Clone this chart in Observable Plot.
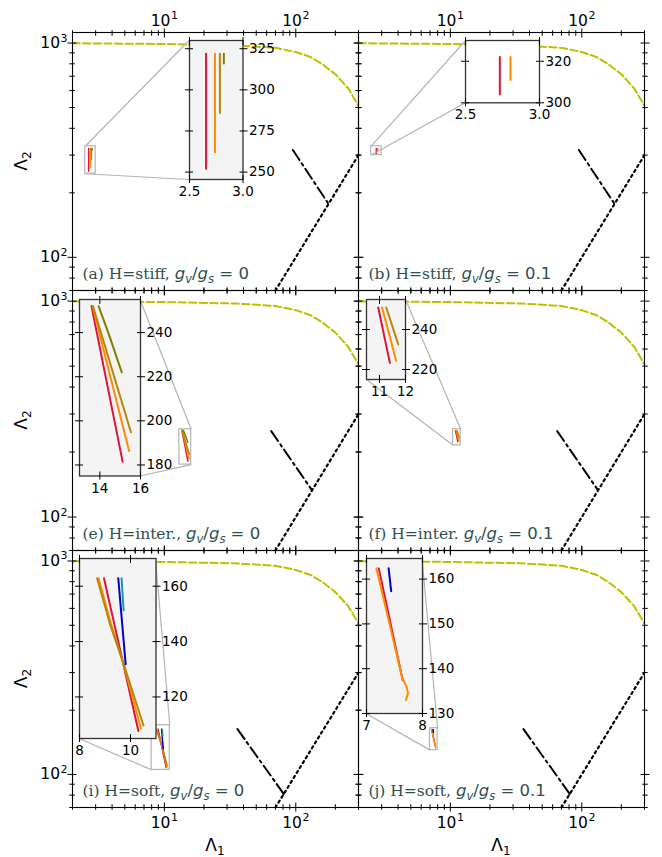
<!DOCTYPE html>
<html><head><meta charset="utf-8">
<script src="https://cdn.jsdelivr.net/npm/d3@7"></script>
<script src="https://cdn.jsdelivr.net/npm/@observablehq/plot@0.6"></script>
<style>
html,body{margin:0;padding:0;background:#fff;}
#fig{position:relative;width:662px;height:857px;overflow:hidden;background:#fff;font-family:"DejaVu Sans";}
#fig svg{position:absolute;overflow:visible;max-width:none;}
</style></head><body><div id="fig"></div>
<script>
// ---------- shared curves (main panels) ----------
const yellowL1 = [2, 10, 35, 70, 100, 130, 160, 200, 250, 300];
const yellowL2 = [998, 990, 975, 950, 908, 860, 795, 715, 615, 510];
const diagL1 = [70, 300];
const diagL2 = [70, 300];
const stiffDashL1 = [95, 178];
const stiffDashL2 = [317, 177];
const interDashL1 = [65, 133];
const interDashL2 = [250, 133];
const softDashL1 = [36, 81];
const softDashL2 = [163, 81];

// ---------- main tick values ----------
const mainXMajor = [10, 100];
const mainXMinor = [2, 3, 4, 5, 6, 7, 8, 9, 20, 30, 40, 50, 60, 70, 80, 90, 200, 300];
const mainYMajor = [100, 1000];
const mainYMinor = [70, 80, 90, 200, 300, 400, 500, 600, 700, 800, 900];

// ---------- panel (a) ----------
const aRedL1 = [2.655, 2.655], aRedL2 = [322, 252];
const aOrangeL1 = [2.738, 2.738], aOrangeL2 = [322, 262];
const aGoldL1 = [2.784, 2.784], aGoldL2 = [322, 286];
const aOliveL1 = [2.821, 2.821], aOliveL2 = [322, 316];
const aInsetX = [2.5, 3.0], aInsetY = [250, 275, 300, 325];
// ---------- panel (b) ----------
const bRedL1 = [2.732, 2.732], bRedL2 = [322, 304];
const bOrangeL1 = [2.804, 2.804], bOrangeL2 = [322, 311];
const bInsetX = [2.5, 3.0], bInsetY = [300, 320];
// ---------- panel (e) ----------
const eRedL1 = [13.59, 15.12], eRedL2 = [252, 181.5];
const eOrangeL1 = [13.64, 15.44], eOrangeL2 = [252, 186.3];
const eGoldL1 = [13.66, 15.53], eGoldL2 = [252, 194.8];
const eOliveL1 = [13.94, 14.47, 15.08], eOliveL2 = [252, 238.5, 222];
const eInsetX = [14, 16], eInsetY = [180, 200, 220, 240];
// ---------- panel (f) ----------
const fRedL1 = [10.95, 11.40], fRedL2 = [251, 223.3];
const fOrangeL1 = [11.10, 11.64], fOrangeL2 = [251, 224.4];
const fGoldL1 = [11.26, 11.72], fGoldL2 = [251, 232.6];
const fInsetX = [11, 12], fInsetY = [220, 240];
// ---------- panel (i) ----------
const iRedL1 = [8.96, 10.31], iRedL2 = [162.9, 107.7];
const iOrangeL1 = [8.75, 9.23, 9.72, 10.41], iOrangeL2 = [162.9, 146.5, 132.2, 108.5];
const iGoldL1 = [8.69, 9.19, 9.72, 10.51], iGoldL2 = [162.9, 146.5, 132.2, 109.7];
const iBlueL1 = [9.52, 9.81], iBlueL2 = [162.9, 131.8];
const iTealL1 = [9.65, 9.73], iTealL2 = [162.9, 151.3];
const iInsetX = [8, 10], iInsetY = [120, 140, 160];
// ---------- panel (j) ----------
const jRedL1 = [7.219, 7.647], jRedL2 = [162.4, 137.4];
const jOrangeL1 = [7.176, 7.413, 7.635, 7.718, 7.741, 7.705], jOrangeL2 = [162.4, 149.9, 138.1, 135.9, 134.5, 133.0];
const jBlueL1 = [7.395, 7.441], jBlueL2 = [162.4, 157.3];
const jInsetX = [7, 8], jInsetY = [130, 140, 150, 160];

// ---------- styles / layout ----------
const RED = "#dc143c", ORANGE = "#ff8c00", GOLD = "#b8860b", OLIVE = "#808000", BLUE = "#0000cd", TEAL = "#1a9a9a";
const YELLOW = "#bfbf00", GRAY = "#b4b4b4", ANN = "#2f4f4f";
const X_DOMAIN = [2, 300], Y_DOMAIN = [70, 1120];
const COL_X = [72, 358], FRAME_W = 286;
const ROWS = [[32, 290], [290, 550], [550, 807]];

const zip = (a, b) => a.map((v, i) => ({x: v, y: b[i]}));
const sup = {"1": "\u00b9", "2": "\u00b2", "3": "\u00b3"};
const unsup = {"\u00b9": "1", "\u00b2": "2", "\u00b3": "3"};
const pow10 = d => "10" + sup[String(Math.round(Math.log10(d)))];

const panels = [
  {col: 0, row: 0, tag: "(a) H=stiff, ", ratio: "0", dash: [stiffDashL1, stiffDashL2],
   series: [[aRedL1, aRedL2, RED], [aOrangeL1, aOrangeL2, ORANGE], [aGoldL1, aGoldL2, GOLD], [aOliveL1, aOliveL2, OLIVE]],
   inset: {xd: [2.5, 3.0], yd: [245.5, 330], xt: aInsetX, yt: aInsetY, xfmt: d3.format(".1f"), box: [188.5, 40, 242, 179], bg: "#f4f4f4", corners: ["UL", "LL"]}},
  {col: 1, row: 0, tag: "(b) H=stiff, ", ratio: "0.1", dash: [stiffDashL1, stiffDashL2],
   series: [[bRedL1, bRedL2, RED], [bOrangeL1, bOrangeL2, ORANGE]],
   inset: {xd: [2.5, 3.0], yd: [300, 330], xt: bInsetX, yt: bInsetY, xfmt: d3.format(".1f"), box: [465, 40, 539, 102.3], bg: "#ffffff", corners: ["UL", "LL"]}},
  {col: 0, row: 1, tag: "(e) H=inter., ", ratio: "0", dash: [interDashL1, interDashL2],
   series: [[eRedL1, eRedL2, RED], [eOrangeL1, eOrangeL2, ORANGE], [eGoldL1, eGoldL2, GOLD], [eOliveL1, eOliveL2, OLIVE]],
   inset: {xd: [13, 16], yd: [175, 255], xt: eInsetX, yt: eInsetY, xfmt: d3.format("d"), box: [78.5, 299, 139.5, 475.5], bg: "#f4f4f4", corners: ["UR", "LR"]}},
  {col: 1, row: 1, tag: "(f) H=inter. ", ratio: "0.1", dash: [interDashL1, interDashL2],
   series: [[fRedL1, fRedL2, RED], [fOrangeL1, fOrangeL2, ORANGE], [fGoldL1, fGoldL2, GOLD]],
   inset: {xd: [10.5, 12], yd: [215, 255], xt: fInsetX, yt: fInsetY, xfmt: d3.format("d"), box: [366, 299, 405, 379], bg: "#f4f4f4", corners: ["UR", "LL"]}},
  {col: 0, row: 2, tag: "(i) H=soft, ", ratio: "0", dash: [softDashL1, softDashL2],
   series: [[iRedL1, iRedL2, RED], [iOrangeL1, iOrangeL2, ORANGE], [iGoldL1, iGoldL2, GOLD], [iBlueL1, iBlueL2, BLUE], [iTealL1, iTealL2, TEAL]],
   inset: {xd: [8, 11], yd: [105, 170], xt: iInsetX, yt: iInsetY, xfmt: d3.format("d"), box: [78.5, 558, 155, 738], bg: "#f4f4f4", corners: ["UR", "LL"]}},
  {col: 1, row: 2, tag: "(j) H=soft, ", ratio: "0.1", dash: [softDashL1, softDashL2],
   series: [[jRedL1, jRedL2, RED], [jOrangeL1, jOrangeL2, ORANGE], [jBlueL1, jBlueL2, BLUE]],
   inset: {xd: [7, 8], yd: [130, 164.6], xt: jInsetX, yt: jInsetY, xfmt: d3.format("d"), box: [365.5, 558, 421.5, 713], bg: "#f4f4f4", corners: ["UR", "LL"]}}
];

function tickMarks(tx, ty, len) {
  const h = len / 2, f = () => "";
  const out = [];
  if (tx) {
    out.push(Plot.axisX({anchor: "bottom", ticks: tx, tickSize: len, dy: -h, tickFormat: f, label: null}));
    out.push(Plot.axisX({anchor: "top", ticks: tx, tickSize: len, dy: h, tickFormat: f, label: null}));
  }
  if (ty) {
    out.push(Plot.axisY({anchor: "left", ticks: ty, tickSize: len, dx: h, tickFormat: f, label: null}));
    out.push(Plot.axisY({anchor: "right", ticks: ty, tickSize: len, dx: -h, tickFormat: f, label: null}));
  }
  return out;
}

// turn "10³"-style labels into mathtext-like superscripts
function superscriptify(svg) {
  svg.querySelectorAll("text").forEach(el => {
    const s = el.textContent;
    const m = /^10([\u00b9\u00b2\u00b3])$/.exec(s);
    if (!m) return;
    while (el.firstChild) el.removeChild(el.firstChild);
    const ns = "http://www.w3.org/2000/svg";
    const a = document.createElementNS(ns, "tspan"); a.textContent = "10";
    const b = document.createElementNS(ns, "tspan"); b.textContent = unsup[m[1]];
    b.setAttribute("font-size", "11px"); b.setAttribute("dy", "-6.5"); b.setAttribute("dx", "0.5");
    el.appendChild(a); el.appendChild(b);
  });
}

const fig = document.getElementById("fig");

function place(svg, left, top) {
  svg.style.position = "absolute";
  svg.style.left = left + "px";
  svg.style.top = top + "px";
  svg.style.background = "transparent";
  svg.style.overflow = "visible";
  svg.style.maxWidth = "none";
  fig.appendChild(svg);
}

// ---------- main panels ----------
panels.forEach(p => {
  const fx = COL_X[p.col], [fy0, fy1] = ROWS[p.row], fh = fy1 - fy0;
  const M = {t: 40, r: 30, b: 40, l: 70};
  const W = FRAME_W + M.l + M.r, H = fh + M.t + M.b;
  const xs = d3.scaleLog().domain(X_DOMAIN).range([M.l, M.l + FRAME_W]);
  const ys = d3.scaleLog().domain(Y_DOMAIN).range([M.t + fh, M.t]);
  const I = p.inset, [bx0, by0, bx1, by1] = I.box;
  const boxPx = {UL: [bx0, by0], LL: [bx0, by1], UR: [bx1, by0], LR: [bx1, by1]};
  const rectC = {UL: [I.xd[0], I.yd[1]], LL: [I.xd[0], I.yd[0]], UR: [I.xd[1], I.yd[1]], LR: [I.xd[1], I.yd[0]]};
  const links = I.corners.map(c => {
    const [px, py] = boxPx[c];
    return {x1: rectC[c][0], y1: rectC[c][1], x2: xs.invert(px - fx + M.l), y2: ys.invert(py - fy0 + M.t)};
  });
  const marks = [
    Plot.line(zip(yellowL1, yellowL2), {x: "x", y: "y", stroke: YELLOW, strokeWidth: 2, strokeDasharray: "7.4,3.2", clip: true}),
    Plot.line(zip(p.dash[0], p.dash[1]), {x: "x", y: "y", stroke: "black", strokeWidth: 2, strokeDasharray: "12,4,2.5,4", clip: true}),
    Plot.line(zip(diagL1, diagL2), {x: "x", y: "y", stroke: "black", strokeWidth: 2.2, strokeDasharray: "2.2,3.6", clip: true}),
    ...p.series.map(s => Plot.line(zip(s[0], s[1]), {x: "x", y: "y", stroke: s[2], strokeWidth: 1.5, clip: true})),
    Plot.rect([{x1: I.xd[0], x2: I.xd[1], y1: I.yd[0], y2: I.yd[1]}], {x1: "x1", x2: "x2", y1: "y1", y2: "y2", fill: "none", stroke: GRAY, strokeWidth: 1.2}),
    Plot.link(links, {x1: "x1", y1: "y1", x2: "x2", y2: "y2", stroke: GRAY, strokeWidth: 1.2}),
    Plot.frame({stroke: "black", strokeWidth: 1.1}),
    ...tickMarks(mainXMajor, mainYMajor, 9),
    ...tickMarks(mainXMinor, mainYMinor, 5.5)
  ];
  if (p.col === 0) marks.push(Plot.axisY({anchor: "left", ticks: mainYMajor, tickSize: 0, tickPadding: 5, tickFormat: pow10, label: null}));
  if (p.row === 0) marks.push(Plot.axisX({anchor: "top", ticks: mainXMajor, tickSize: 0, tickPadding: 7, tickFormat: pow10, label: null}));
  if (p.row === 2) marks.push(Plot.axisX({anchor: "bottom", ticks: mainXMajor, tickSize: 0, tickPadding: 9, tickFormat: pow10, label: null}));
  const svg = Plot.plot({
    width: W, height: H,
    marginTop: M.t, marginRight: M.r, marginBottom: M.b, marginLeft: M.l,
    x: {type: "log", domain: X_DOMAIN, label: null},
    y: {type: "log", domain: Y_DOMAIN, label: null},
    style: {fontSize: "15.5px", fontFamily: "DejaVu Sans", background: "transparent", overflow: "visible"},
    marks
  });
  superscriptify(svg);
  place(svg, fx - M.l, fy0 - M.t);
});

// ---------- insets ----------
panels.forEach(p => {
  const I = p.inset, [bx0, by0, bx1, by1] = I.box;
  const M = {t: 12, r: 45, b: 28, l: 12};
  const svg = Plot.plot({
    width: (bx1 - bx0) + M.l + M.r, height: (by1 - by0) + M.t + M.b,
    marginTop: M.t, marginRight: M.r, marginBottom: M.b, marginLeft: M.l,
    x: {type: "linear", domain: I.xd, label: null},
    y: {type: "linear", domain: I.yd, label: null},
    style: {fontSize: "13.5px", fontFamily: "DejaVu Sans", background: "transparent", overflow: "visible"},
    marks: [
      Plot.frame({fill: I.bg, stroke: null}),
      ...p.series.map(s => Plot.line(zip(s[0], s[1]), {x: "x", y: "y", stroke: s[2], strokeWidth: 2, clip: true})),
      Plot.frame({stroke: "#333", strokeWidth: 1.3}),
      ...tickMarks(I.xt, I.yt, 8),
      Plot.axisY({anchor: "right", ticks: I.yt, tickSize: 0, tickPadding: 6, tickFormat: d3.format("d"), label: null}),
      Plot.axisX({anchor: "bottom", ticks: I.xt, tickSize: 0, tickPadding: 7, tickFormat: I.xfmt, label: null})
    ]
  });
  place(svg, bx0 - M.l, by0 - M.t);
});

// ---------- text overlay (axis titles, panel annotations) ----------
const ov = d3.create("svg").attr("width", 662).attr("height", 857)
  .style("left", "0px").style("top", "0px").style("pointer-events", "none");
ROWS.forEach(([a, b]) => {
  const t = ov.append("text").attr("transform", `translate(27,${(a + b) / 2}) rotate(-90)`)
    .attr("text-anchor", "middle").attr("font-family", "DejaVu Sans").attr("font-size", 17).attr("fill", "black");
  t.append("tspan").text("\u039b");
  t.append("tspan").attr("font-size", 12).attr("dy", 3.5).text("2");
});
COL_X.forEach(x => {
  const t = ov.append("text").attr("x", x + FRAME_W / 2).attr("y", 851)
    .attr("text-anchor", "middle").attr("font-family", "DejaVu Sans").attr("font-size", 17).attr("fill", "black");
  t.append("tspan").text("\u039b");
  t.append("tspan").attr("font-size", 12).attr("dy", 3.5).text("1");
});
panels.forEach(p => {
  const x = COL_X[p.col] + 10.5, y = ROWS[p.row][1] - 11;
  const t = ov.append("text").attr("x", x).attr("y", y).attr("fill", ANN).attr("font-size", 15.5)
    .style("white-space", "pre");
  t.append("tspan").attr("font-family", "DejaVu Serif").text(p.tag);
  const m = (txt, italic, dy, size) => t.append("tspan").attr("font-family", "DejaVu Sans")
    .attr("font-style", italic ? "italic" : "normal").attr("dy", dy).attr("font-size", size).text(txt);
  m("g", true, 0, 16.5);
  m("v", true, 3.5, 11.5);
  m("/", false, -3.5, 16.5);
  m("g", true, 0, 16.5);
  m("s", true, 3.5, 11.5);
  m(" = " + p.ratio, false, -3.5, 16.5);
});
fig.appendChild(ov.node());
</script></body></html>
